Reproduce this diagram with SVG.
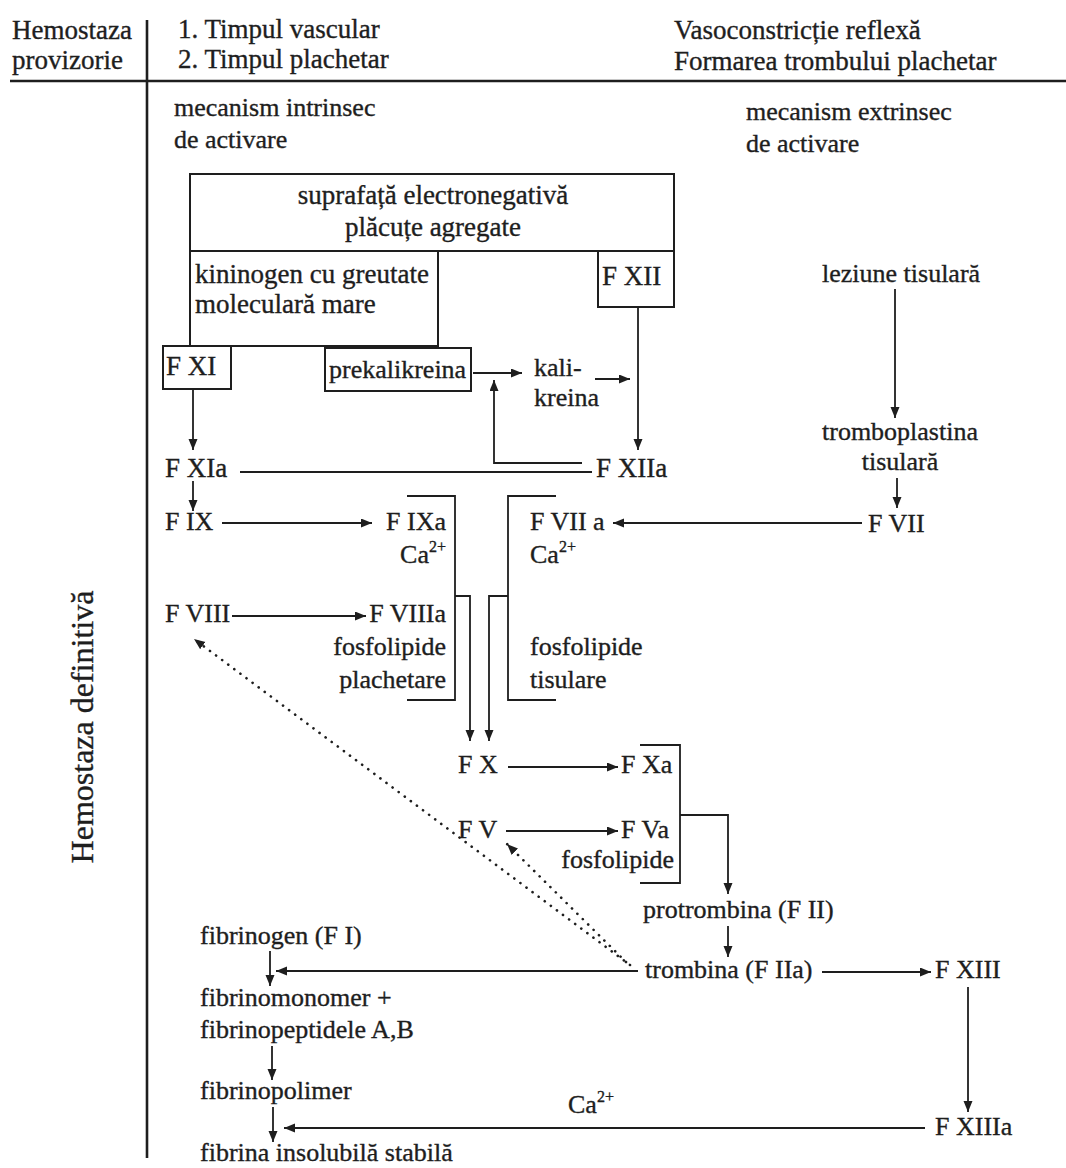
<svg xmlns="http://www.w3.org/2000/svg" width="1066" height="1168" viewBox="0 0 1066 1168">
  <defs>
    <marker id="arrow" markerUnits="userSpaceOnUse" markerWidth="12" markerHeight="10" refX="11" refY="4.5" orient="auto">
      <path d="M0,0 L11,4.5 L0,9 z" fill="#1e1e1e"/>
    </marker>
    <style>
      text { font-family: "Liberation Serif", "Times New Roman", serif; font-size: 26px; fill: #1e1e1e; stroke: #1e1e1e; stroke-width: 0.35; }
      .big { font-size: 27px; }
      .end { text-anchor: end; }
      .mid { text-anchor: middle; }
      .sup { font-size: 16px; }
      .box { fill: none; stroke: #1e1e1e; stroke-width: 2; }
      .line { fill: none; stroke: #1e1e1e; stroke-width: 1.8; }
      .arr { fill: none; stroke: #1e1e1e; stroke-width: 1.8; marker-end: url(#arrow); }
      .dot { fill: none; stroke: #1e1e1e; stroke-width: 2.6; stroke-linecap: round; stroke-dasharray: 0.1 7.5; marker-end: url(#arrow); }
      .frame { fill: none; stroke: #1e1e1e; stroke-width: 2.6; }
    </style>
  </defs>

  <rect width="1066" height="1168" fill="#ffffff"/>

  <!-- page frame: header rule and left column rule -->
  <g id="frame">
    <line class="frame" x1="10" y1="81" x2="1066" y2="81"/>
    <line class="frame" x1="147" y1="20" x2="147" y2="1158"/>
  </g>

  <!-- header: provisional haemostasis -->
  <g id="header">
    <text class="big" x="12" y="39">Hemostaza</text>
    <text class="big" x="12" y="69">provizorie</text>
    <text class="big" x="178" y="38">1. Timpul vascular</text>
    <text class="big" x="178" y="68">2. Timpul plachetar</text>
    <text class="big" x="674" y="39">Vasoconstricție reflexă</text>
    <text class="big" x="674" y="70">Formarea trombului plachetar</text>
  </g>

  <text id="side-label" class="mid" style="font-size:32px" transform="translate(93,727) rotate(-90)">Hemostaza definitivă</text>

  <g id="intrinsic-title">
    <text x="174" y="116">mecanism intrinsec</text>
    <text x="174" y="148">de activare</text>
  </g>
  <g id="extrinsic-title">
    <text x="746" y="120">mecanism extrinsec</text>
    <text x="746" y="152">de activare</text>
  </g>

  <!-- contact activation block -->
  <g id="surface">
    <rect class="box" x="190" y="174" width="484" height="77"/>
    <text class="mid big" x="433" y="204">suprafață electronegativă</text>
    <text class="mid big" x="433" y="236">plăcuțe agregate</text>
  </g>
  <g id="kininogen">
    <path class="box" d="M190,251 V346 H438 V251"/>
    <text class="big" x="195" y="283">kininogen cu greutate</text>
    <text class="big" x="195" y="313">moleculară mare</text>
  </g>
  <g id="fxii">
    <path class="box" d="M598,251 V307 H674 V251"/>
    <text class="big" x="602" y="285">F XII</text>
  </g>
  <g id="fxi">
    <rect class="box" x="163" y="346" width="68" height="43"/>
    <text class="big" x="166" y="375">F XI</text>
  </g>
  <g id="prekalikreina">
    <rect class="box" x="325" y="348" width="146" height="43"/>
    <text x="329" y="378">prekalikreina</text>
  </g>
  <g id="kalikreina">
    <text x="534" y="376">kali-</text>
    <text x="534" y="406">kreina</text>
  </g>
  <g id="fxia"><text class="big" x="165" y="477">F XIa</text></g>
  <g id="fxiia"><text class="big" x="596" y="477">F XIIa</text></g>

  <g id="fix"><text x="165" y="530">F IX</text></g>
  <g id="fixa">
    <text class="end" x="446" y="530">F IXa</text>
    <text class="end" x="446" y="563">Ca<tspan class="sup" dy="-11">2+</tspan></text>
  </g>
  <g id="fviii"><text x="165" y="622">F VIII</text></g>
  <g id="fviiia">
    <text class="end" x="446" y="622">F VIIIa</text>
    <text class="end" x="446" y="655">fosfolipide</text>
    <text class="end" x="446" y="688">plachetare</text>
  </g>
  <g id="fviia">
    <text x="530" y="530">F VII a</text>
    <text x="530" y="563">Ca<tspan class="sup" dy="-11">2+</tspan></text>
    <text x="530" y="655">fosfolipide</text>
    <text x="530" y="688">tisulare</text>
  </g>

  <!-- extrinsic pathway -->
  <g id="leziune"><text x="822" y="282">leziune tisulară</text></g>
  <g id="tromboplastina">
    <text class="mid" x="900" y="440">tromboplastina</text>
    <text class="mid" x="900" y="470">tisulară</text>
  </g>
  <g id="fvii"><text x="868" y="532">F VII</text></g>

  <!-- common pathway -->
  <g id="fx"><text x="458" y="773">F X</text></g>
  <g id="fxa"><text x="621" y="773">F Xa</text></g>
  <g id="fv"><text x="458" y="838">F V</text></g>
  <g id="fva">
    <text x="621" y="838">F Va</text>
    <text class="end" x="674" y="868">fosfolipide</text>
  </g>
  <g id="protrombina"><text x="643" y="918">protrombina (F II)</text></g>
  <g id="trombina"><text x="645" y="978">trombina (F IIa)</text></g>
  <g id="fxiii"><text x="935" y="978">F XIII</text></g>
  <g id="fxiiia"><text x="935" y="1135">F XIIIa</text></g>
  <g id="ca-fxiiia"><text x="568" y="1113">Ca<tspan class="sup" dy="-11">2+</tspan></text></g>

  <g id="fibrinogen"><text x="200" y="944">fibrinogen (F I)</text></g>
  <g id="fibrinomonomer">
    <text x="200" y="1006">fibrinomonomer +</text>
    <text x="200" y="1038">fibrinopeptidele A,B</text>
  </g>
  <g id="fibrinopolimer"><text x="200" y="1099">fibrinopolimer</text></g>
  <g id="fibrina"><text x="200" y="1161">fibrina insolubilă stabilă</text></g>

  <!-- connectors -->
  <g id="connectors">
    <!-- contact phase -->
    <line class="arr" x1="473" y1="373" x2="522" y2="373"/>
    <line class="arr" x1="595" y1="379" x2="630" y2="379"/>
    <line class="arr" x1="638" y1="307" x2="638" y2="450"/>
    <path class="arr" d="M582,463 H494 V380"/>
    <line class="line" x1="240" y1="472" x2="592" y2="472"/>
    <line class="arr" x1="193" y1="389" x2="193" y2="450"/>
    <line class="arr" x1="193" y1="481" x2="193" y2="511"/>

    <!-- IX / VIII activation -->
    <line class="arr" x1="222" y1="523" x2="372" y2="523"/>
    <line class="arr" x1="232" y1="616" x2="366" y2="616"/>

    <!-- tenase complexes -->
    <path class="line" d="M407,496 H455 V700 H407"/>
    <path class="arr" d="M455,596 H470 V741"/>
    <path class="line" d="M556,496 H508 V700 H556"/>
    <path class="arr" d="M508,596 H489 V741"/>

    <!-- extrinsic -->
    <line class="arr" x1="895" y1="289" x2="895" y2="418"/>
    <line class="arr" x1="897" y1="478" x2="897" y2="508"/>
    <line class="arr" x1="862" y1="523" x2="613" y2="523"/>

    <!-- prothrombinase -->
    <line class="arr" x1="508" y1="767" x2="618" y2="767"/>
    <line class="arr" x1="506" y1="831" x2="618" y2="831"/>
    <path class="line" d="M640,745 H680 V883 H640"/>
    <path class="arr" d="M680,815 H728 V894"/>
    <line class="arr" x1="728" y1="926" x2="728" y2="957"/>

    <!-- thrombin actions -->
    <line class="arr" x1="638" y1="971" x2="276" y2="971"/>
    <line class="arr" x1="822" y1="972" x2="931" y2="972"/>
    <line class="arr" x1="968" y1="987" x2="968" y2="1112"/>
    <line class="arr" x1="925" y1="1128" x2="284" y2="1128"/>

    <!-- fibrin formation -->
    <line class="arr" x1="270" y1="951" x2="270" y2="986"/>
    <line class="arr" x1="272" y1="1046" x2="272" y2="1080"/>
    <line class="arr" x1="273" y1="1107" x2="273" y2="1142"/>

    <!-- thrombin feedback -->
    <line class="dot" x1="630" y1="965" x2="194" y2="639"/>
    <line class="dot" x1="626" y1="962" x2="507" y2="844"/>
  </g>
</svg>
